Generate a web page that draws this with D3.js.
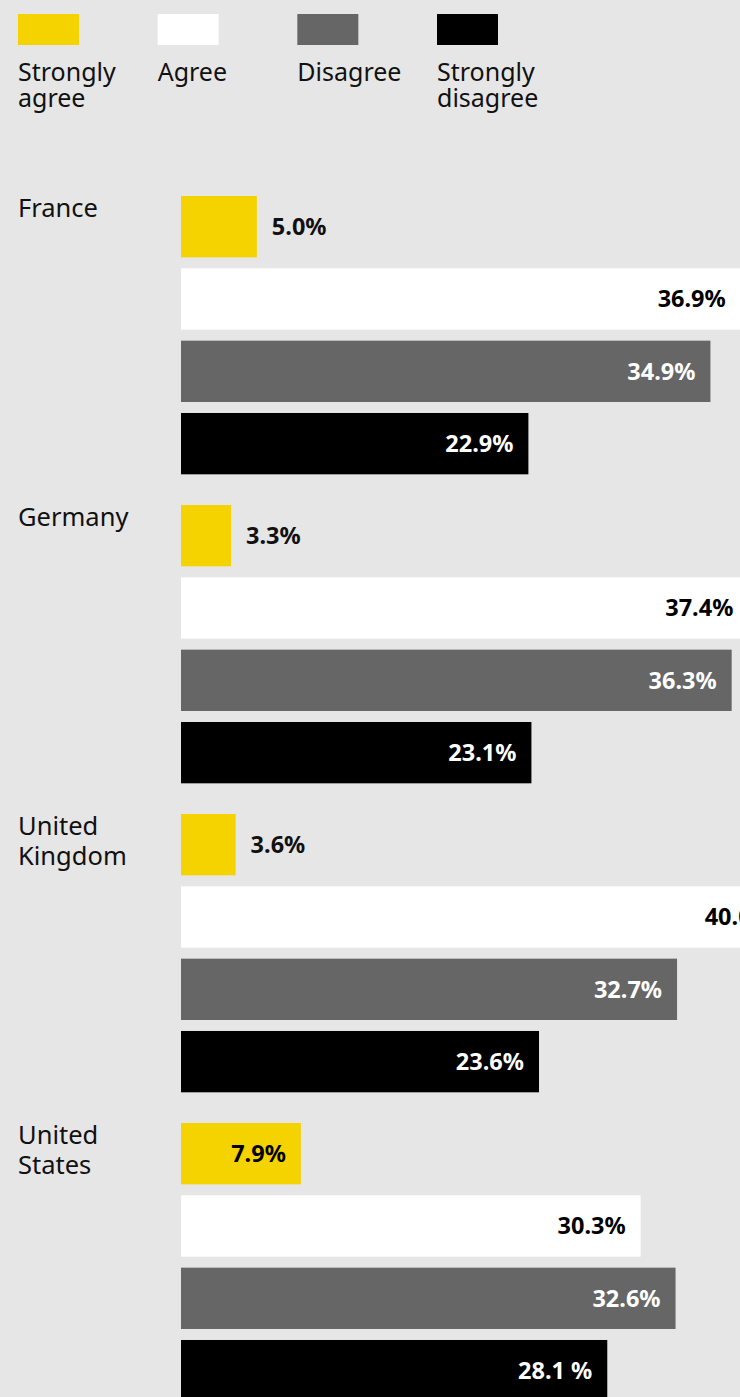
<!DOCTYPE html>
<html><head><meta charset="utf-8">
<script src="https://cdn.jsdelivr.net/npm/d3@7"></script>
<style>
html,body{margin:0;padding:0;background:#e6e6e6;}
svg{display:block;font-family:"Noto Sans", sans-serif;}
</style></head>
<body>
<svg id="c" width="740" height="1397"></svg>
<script>
const countries = ["France", "Germany", "United Kingdom", "United States"];
const seriesNames = ["Strongly agree", "Agree", "Disagree", "Strongly disagree"];
const seriesColors = ["#f5d300", "#ffffff", "#666666", "#000000"];
const labelColors = ["#000000", "#000000", "#ffffff", "#ffffff"];
const strongAgree = [5.0, 3.3, 3.6, 7.9];
const agree = [36.9, 37.4, 40.0, 30.3];
const disagree = [34.9, 36.3, 32.7, 32.6];
const strongDisagree = [22.9, 23.1, 23.6, 28.1];
const strongDisagreeLabels = ["22.9%", "23.1%", "23.6%", "28.1 %"];

const seriesValues = [strongAgree, agree, disagree, strongDisagree];
const fmt = (v, s, i) => s === 3 ? strongDisagreeLabels[i] : v.toFixed(1) + "%";

const svg = d3.select("#c");
const W = 740;

svg.append("rect").attr("width", W).attr("height", 1397).attr("fill", "#e6e6e6");

// legend
const legX = d3.scalePoint().domain(seriesNames).range([18, 437]);
const leg = svg.append("g").selectAll("g").data(seriesNames).join("g")
  .attr("transform", d => `translate(${legX(d)},0)`);
leg.append("rect").attr("x", 0).attr("y", 14).attr("width", 61).attr("height", 31)
  .attr("fill", (d, i) => seriesColors[i]);
leg.append("text").attr("y", 81).attr("font-size", 25).attr("fill", "#111")
  .each(function(d) {
    const words = d.split(" ");
    const t = d3.select(this);
    words.forEach((w, k) => t.append("tspan").attr("x", 0).attr("dy", k === 0 ? 0 : 26).text(w));
  });

// chart
const x = d3.scaleLinear().domain([0, 40]).range([181, 181 + 40 * 15.17]);
const yGroup = d3.scaleBand().domain(countries).range([196, 196 + 4 * 309]);
const ySeries = d3.scaleBand().domain(d3.range(4)).range([0, 4 * 72.33 - 11]).paddingInner(11 / 72.33).paddingOuter(0);

const rows = [];
countries.forEach((c, i) => seriesValues.forEach((arr, s) => rows.push({c, i, s, v: arr[i]})));

const g = svg.append("g");
// country labels
g.selectAll("text.country").data(countries).join("text").attr("class", "country")
  .attr("x", 18).attr("y", d => yGroup(d) + 21).attr("font-size", 25.5).attr("fill", "#111")
  .each(function(d) {
    const words = d.split(" ");
    const t = d3.select(this);
    words.forEach((w, k) => t.append("tspan").attr("x", 18).attr("dy", k === 0 ? 0 : 30).text(w));
  });

const bh = ySeries.bandwidth();
const barG = g.selectAll("g.bar").data(rows).join("g").attr("class", "bar")
  .attr("transform", d => `translate(0,${yGroup(d.c) + ySeries(d.s)})`);
barG.append("rect").attr("x", x(0)).attr("y", 0)
  .attr("width", d => x(d.v) - x(0)).attr("height", bh)
  .attr("fill", d => seriesColors[d.s]);
barG.append("text")
  .attr("font-size", 23.5).attr("font-weight", 700)
  .attr("y", bh / 2).attr("dy", "0.36em")
  .text(d => fmt(d.v, d.s, d.i))
  .each(function(d) {
    const t = d3.select(this);
    const tw = this.getComputedTextLength();
    const bw = x(d.v) - x(0);
    if (bw > tw + 30) {
      t.attr("x", x(d.v) - 15).attr("text-anchor", "end").attr("fill", labelColors[d.s]);
    } else {
      t.attr("x", x(d.v) + 15).attr("text-anchor", "start").attr("fill", "#111");
    }
  });
</script>
</body></html>
